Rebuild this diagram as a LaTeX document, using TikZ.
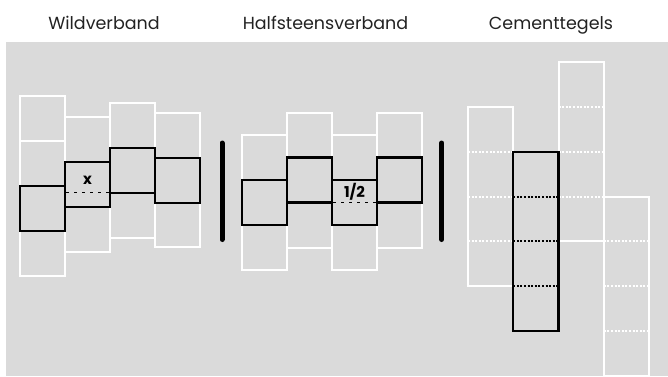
\documentclass[tikz,border=0pt]{standalone}
\usepackage{fontspec}
\setmainfont{Poppins}
\definecolor{bg}{HTML}{DADADA}
\definecolor{txt}{HTML}{222222}
\begin{document}
\begin{tikzpicture}[x=1pt,y=-1pt,
  wcell/.style={draw=white,line width=2pt},
  bcell/.style={draw=black,line width=2.3pt},
  wdot/.style={draw=white,line width=2pt,dash pattern=on 2pt off 1.6pt},
  bdot/.style={draw=black,line width=2pt,dash pattern=on 2pt off 1.6pt},
  half/.style={draw=black,line width=1pt,dash pattern=on 3pt off 5pt},
  title/.style={font=\fontsize{17.5}{21}\selectfont,text=txt,inner sep=0pt,anchor=base},
  celllabel/.style={font=\fontsize{15}{17}\selectfont\bfseries,text=black,inner sep=0pt},
  divider/.style={line width=5pt,line cap=round,draw=black}]
\useasboundingbox (0,0) rectangle (668,376);
\fill[bg] (5.5,42) rectangle (668,376);
% titles
\node[title] (t1) at (104,29.5) {Wildverband};
\node[title] (t2) at (325.5,29.5) {Halfsteensverband};
\node[title] (t3) at (551,29.5) {Cementtegels};
% Wildverband
\draw[wcell] (20,96) rectangle (65,276);
\draw[wcell] (20,141) -- (65,141);
\draw[wcell] (65,117) rectangle (110,252);
\draw[wcell] (110,103) rectangle (155,238);
\draw[wcell] (155,113) rectangle (200,247);
\draw[bcell] (20,186) rectangle (65,231);
\draw[bcell] (65,162) rectangle (110,207);
\draw[bcell] (110,148) rectangle (155,193);
\draw[bcell] (155,158) rectangle (200,203);
\draw[half] (66,192) -- (109,192);
\node[celllabel] (x) at (87.5,180.5) {x};
% divider 1
\coordinate (d1a) at (222,143);
\coordinate (d1b) at (222,239.5);
\draw[divider] (d1a) -- (d1b);
% Halfsteensverband
\draw[wcell] (242,135) rectangle (287,270);
\draw[wcell] (287,112.5) rectangle (332,247.5);
\draw[wcell] (332,135) rectangle (377,270);
\draw[wcell] (377,112.5) rectangle (422,247.5);
\draw[bcell] (242,180) rectangle (287,225);
\draw[bcell] (287,157.5) rectangle (332,202.5);
\draw[bcell] (332,180) rectangle (377,225);
\draw[bcell] (377,157.5) rectangle (422,202.5);
\draw[half] (333,202.5) -- (376,202.5);
\node[celllabel] (h) at (354.5,192) {1/2};
% divider 2
\coordinate (d2a) at (441.7,143);
\coordinate (d2b) at (441.7,239.5);
\draw[divider] (d2a) -- (d2b);
% Cementtegels
\def\ra{62}\def\rb{106.85}\def\rc{151.7}\def\rd{196.55}\def\re{241.4}\def\rf{286.25}\def\rg{331.1}\def\rh{376}
\draw[wcell] (468,\rb) rectangle (513.25,\rf);
\foreach \y in {\rc,\rd,\re} \draw[wdot] (468,\y) -- (513.25,\y);
\draw[wcell] (558.5,\ra) rectangle (603.75,\re);
\foreach \y in {\rb,\rc,\rd} \draw[wdot] (558.5,\y) -- (603.75,\y);
\draw[wcell] (603.75,\rd) rectangle (649,\rh);
\foreach \y in {\re,\rf,\rg} \draw[wdot] (603.75,\y) -- (649,\y);
\draw[bcell] (513.25,\rc) rectangle (558.5,\rg);
\foreach \y in {\rd,\re,\rf} \draw[bdot] (513.25,\y) -- (558.5,\y);
\end{tikzpicture}
\end{document}
